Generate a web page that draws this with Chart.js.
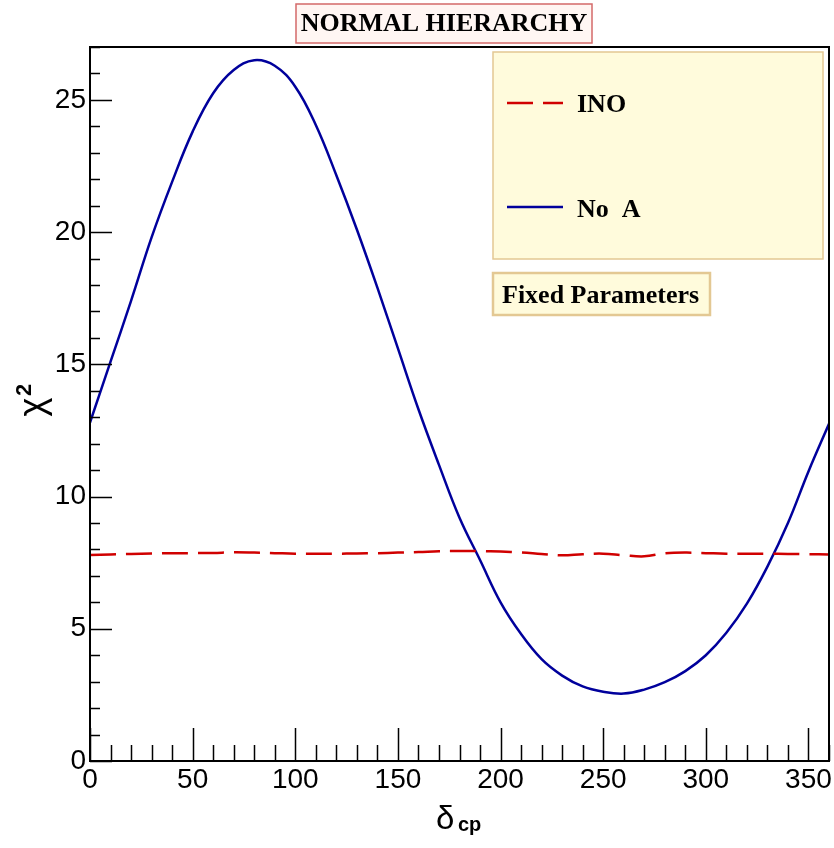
<!DOCTYPE html>
<html>
<head>
<meta charset="utf-8">
<script src="https://cdn.jsdelivr.net/npm/chart.js@4.4.1/dist/chart.umd.min.js"></script>
<style>
  body { margin: 0; background: #fff; }
  #wrap { width: 834px; height: 848px; }
</style>
</head>
<body>
<div id="wrap"><canvas id="myChart" width="834" height="848"></canvas></div>
<script>
// delta_cp values (degrees)
const deltaCP = [0, 10, 20, 30, 40, 50, 60, 70, 80, 90, 100, 110, 120, 130, 140, 150, 160, 170, 180,
  190, 200, 210, 220, 230, 240, 250, 260, 270, 280, 290, 300, 310, 320, 330, 340, 350, 360];

// chi^2, INO only
const chiINO = [7.79, 7.81, 7.83, 7.85, 7.86, 7.86, 7.87, 7.89, 7.88, 7.86, 7.84, 7.84, 7.84, 7.85, 7.86,
  7.88, 7.90, 7.93, 7.94, 7.94, 7.92, 7.89, 7.83, 7.78, 7.82, 7.84, 7.78, 7.74, 7.85, 7.88, 7.86,
  7.84, 7.84, 7.84, 7.83, 7.82, 7.81];

// chi^2, No A
const chiNoA = [12.8, 15.1, 17.4, 19.8, 21.9, 23.8, 25.25, 26.13, 26.5, 26.29, 25.5, 24.05, 22.15, 20.1,
  17.9, 15.6, 13.3, 11.2, 9.2, 7.6, 6.0, 4.8, 3.85, 3.23, 2.82, 2.62, 2.55, 2.70, 2.98, 3.4, 4.0,
  4.85, 5.95, 7.35, 9.0, 10.95, 12.75];

const xTicks = [0, 50, 100, 150, 200, 250, 300, 350];
const yTicks = [0, 5, 10, 15, 20, 25];

const seriesNames = ['INO', 'No  A'];
const titleText = 'NORMAL HIERARCHY';
const boxText = 'Fixed Parameters';

const sans = '"Liberation Sans", Arial, sans-serif';
const serifBold = '"Liberation Serif", "Times New Roman", serif';

function toXY(ys) {
  return deltaCP.map((d, i) => ({ x: d, y: ys[i] }));
}

// frame, inward ticks, title, legend, axis titles
const rootStyle = {
  id: 'rootStyle',
  afterDraw(chart) {
    const c = chart.ctx;
    const a = chart.chartArea;
    const xs = chart.scales.x, ys = chart.scales.y;
    c.save();

    // ticks
    c.strokeStyle = '#000';
    c.lineWidth = 1.5;
    c.beginPath();
    for (let v = 0; v <= 360; v += 10) {
      const px = Math.round(xs.getPixelForValue(v)) + 0.5;
      const len = v % 50 === 0 ? 33 : 16;
      c.moveTo(px, a.bottom);
      c.lineTo(px, a.bottom - len);
    }
    for (let v = 0; v <= 27; v += 1) {
      const py = Math.round(ys.getPixelForValue(v)) + 0.5;
      const len = v % 5 === 0 ? 22 : 10;
      c.moveTo(a.left, py);
      c.lineTo(a.left + len, py);
    }
    c.stroke();

    // frame
    c.lineWidth = 2;
    c.strokeRect(a.left, a.top, a.right - a.left, a.bottom - a.top);

    // title box
    c.fillStyle = '#fff6f3';
    c.fillRect(296, 4, 296, 39);
    c.strokeStyle = '#d46a6a';
    c.lineWidth = 1.5;
    c.strokeRect(296, 4, 296, 39);
    c.fillStyle = '#000';
    c.font = 'bold 26px ' + serifBold;
    c.textBaseline = 'alphabetic';
    c.textAlign = 'center';
    c.fillText(titleText, 444, 31, 290);

    // legend box
    c.fillStyle = '#fffbdc';
    c.fillRect(493, 52, 330, 207);
    c.strokeStyle = '#e3c893';
    c.lineWidth = 1.5;
    c.strokeRect(493, 52, 330, 207);

    const rows = [103, 207];
    const bases = [112, 217];
    chart.data.datasets.forEach((ds, i) => {
      c.strokeStyle = ds.borderColor;
      c.lineWidth = ds.borderWidth;
      c.setLineDash(ds.borderDash || []);
      c.beginPath();
      c.moveTo(507, rows[i]);
      c.lineTo(563, rows[i]);
      c.stroke();
      c.setLineDash([]);
      c.fillStyle = '#000';
      c.font = 'bold 26px ' + serifBold;
      c.textAlign = 'left';
      c.fillText(ds.label, 577, bases[i]);
    });

    // fixed parameters box
    c.fillStyle = '#fffbdc';
    c.fillRect(493, 273, 217, 42);
    c.strokeStyle = '#e3c893';
    c.strokeRect(493, 273, 217, 42);
    c.fillStyle = '#000';
    c.font = 'bold 26px ' + serifBold;
    c.fillText(boxText, 502, 303, 201);

    // x axis title: delta_cp
    c.font = '33px ' + sans;
    c.textAlign = 'left';
    c.fillText('δ', 436, 829);
    c.font = 'bold 20px ' + sans;
    c.fillText('cp', 458, 831);

    // y axis title: chi^2
    c.translate(44, 402);
    c.rotate(-Math.PI / 2);
    c.font = '36px ' + sans;
    c.textAlign = 'center';
    c.fillText('χ', -5, 0);
    c.font = 'bold 22px ' + sans;
    c.textAlign = 'left';
    c.fillText('2', 6, -13);

    c.restore();
  }
};

const ctx = document.getElementById('myChart');

new Chart(ctx, {
  type: 'line',
  data: {
    datasets: [{
      label: seriesNames[0],
      data: toXY(chiINO),
      borderColor: '#d00000',
      borderWidth: 2.5,
      borderDash: [26, 10],
      pointRadius: 0,
      tension: 0.4,
      fill: false
    }, {
      label: seriesNames[1],
      data: toXY(chiNoA),
      borderColor: '#00009c',
      borderWidth: 2.5,
      pointRadius: 0,
      tension: 0.4,
      fill: false
    }]
  },
  options: {
    responsive: false,
    animation: false,
    layout: { padding: { top: 47, right: 5, left: 0, bottom: 0 } },
    plugins: {
      legend: { display: false },
      tooltip: { enabled: false }
    },
    scales: {
      x: {
        type: 'linear',
        min: 0,
        max: 360,
        afterFit(scale) { scale.height = 87; },
        afterBuildTicks(scale) { scale.ticks = xTicks.map(v => ({ value: v })); },
        ticks: {
          font: { family: sans, size: 28 },
          color: '#000',
          padding: 2,
          maxRotation: 0,
          autoSkip: false
        },
        grid: { display: false, drawTicks: false },
        border: { display: false }
      },
      y: {
        min: 0,
        max: 27,
        afterFit(scale) { scale.width = 90; },
        afterBuildTicks(scale) { scale.ticks = yTicks.map(v => ({ value: v })); },
        ticks: {
          font: { family: sans, size: 28 },
          color: '#000',
          padding: 4,
          autoSkip: false
        },
        grid: { display: false, drawTicks: false },
        border: { display: false }
      }
    }
  },
  plugins: [rootStyle]
});
</script>
</body>
</html>
